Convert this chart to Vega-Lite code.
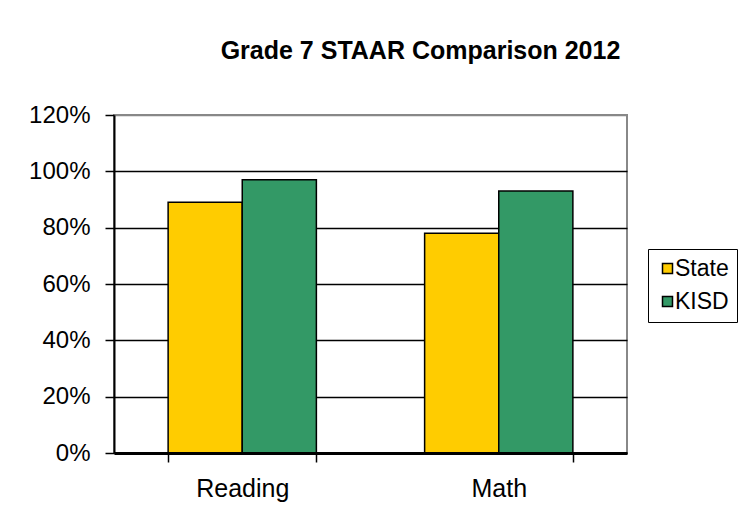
{
  "$schema": "https://vega.github.io/schema/vega-lite/v6.json",
  "width": 513,
  "height": 338,
  "autosize": {"type": "none"},
  "padding": {"left": 114, "top": 115, "right": 112, "bottom": 78},
  "background": "white",
  "title": {
    "text": "Grade 7 STAAR  Comparison 2012",
    "font": "Liberation Sans",
    "fontSize": 25,
    "fontWeight": "bold",
    "color": "black",
    "anchor": "middle",
    "frame": "group",
    "baseline": "alphabetic",
    "dx": 50,
    "offset": 19
  },
  "data": {
    "values": [
      {"subject": "Reading", "group": "State", "value": 0.89},
      {"subject": "Reading", "group": "KISD", "value": 0.97},
      {"subject": "Math", "group": "State", "value": 0.78},
      {"subject": "Math", "group": "KISD", "value": 0.93}
    ]
  },
  "mark": {"type": "bar", "stroke": "black", "strokeWidth": 1.5},
  "encoding": {
    "x": {
      "field": "subject",
      "type": "nominal",
      "sort": ["Reading", "Math"],
      "scale": {"paddingInner": 0.422, "paddingOuter": 0.211},
      "axis": {
        "title": null,
        "labelAngle": 0,
        "labelFont": "Liberation Sans",
        "labelFontSize": 25,
        "labelColor": "black",
        "labelPadding": 14,
        "tickBand": "extent",
        "tickSize": 9,
        "tickColor": "black",
        "tickWidth": 1.5,
        "domainColor": "black",
        "domainWidth": 3,
        "grid": false,
        "zindex": 1
      }
    },
    "xOffset": {"field": "group", "type": "nominal", "sort": ["State", "KISD"]},
    "y": {
      "field": "value",
      "type": "quantitative",
      "scale": {"domain": [0, 1.2], "nice": false},
      "axis": {
        "title": null,
        "values": [0, 0.2, 0.4, 0.6, 0.8, 1.0, 1.2],
        "format": ".0%",
        "labelFont": "Liberation Sans",
        "labelFontSize": 24,
        "labelColor": "black",
        "labelPadding": 15,
        "tickSize": 9,
        "tickColor": "black",
        "tickWidth": 1.5,
        "domainColor": "black",
        "domainWidth": 2,
        "grid": true,
        "gridColor": {"condition": {"test": "datum.value >= 1.19", "value": "#888888"}, "value": "black"},
        "gridWidth": 1.5,
        "gridOpacity": 1
      }
    },
    "color": {
      "field": "group",
      "type": "nominal",
      "sort": ["State", "KISD"],
      "scale": {"domain": ["State", "KISD"], "range": ["#FFCC00", "#339966"]},
      "legend": {
        "title": null,
        "orient": "none",
        "legendX": 534,
        "legendY": 134,
        "strokeColor": "black",
        "padding": 8,
        "symbolType": "square",
        "symbolSize": 100,
        "symbolStrokeColor": "black",
        "symbolStrokeWidth": 1.5,
        "symbolOpacity": 1,
        "labelFont": "Liberation Sans",
        "labelFontSize": 23,
        "labelColor": "black",
        "labelOffset": -4,
        "rowPadding": 9
      }
    }
  },
  "config": {
    "view": {"stroke": "#888888", "strokeWidth": 2}
  }
}
